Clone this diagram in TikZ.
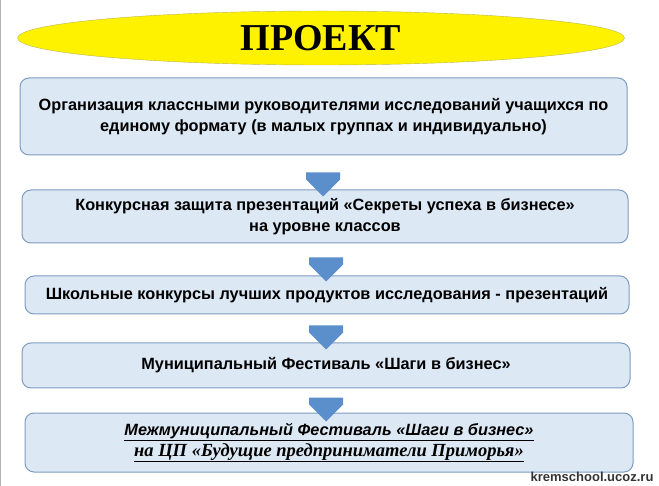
\documentclass[tikz,border=0pt]{standalone}
\usepackage{fontspec}
\setmainfont{Liberation Sans}
\newfontfamily\serifru{Liberation Serif}
\usetikzlibrary{shapes.geometric,shapes.arrows}
\definecolor{boxline}{HTML}{7F9CC0}
\definecolor{boxfill}{HTML}{DCE8F4}
\definecolor{arrowblue}{HTML}{5B8FCB}
\tikzset{
	stagebox/.style={draw=boxline,line width=1pt,rounded corners=9pt,fill=boxfill,
		align=center,font=\bfseries\fontsize{16.3}{21}\selectfont},
	downarrow/.style={single arrow,draw=none,fill=arrowblue,shape border rotate=270,
		minimum width=34pt,single arrow head extend=0pt,minimum height=24pt,inner sep=3pt}
}
\begin{document}
\begin{tikzpicture}[x=1pt,y=-1pt]
	\useasboundingbox (0,0) rectangle (659,486);
	\draw[gray!60] (0.5,0)--(0.5,486);
	
	\node[ellipse,draw=olive!60,fill=yellow,minimum width=607pt,minimum height=54pt] (title) at (321,38)
		{\serifru\bfseries\fontsize{38}{38}\selectfont ПРОЕКТ};
	
	\node[stagebox,minimum width=607pt,minimum height=77pt] (s1) at (323.5,116.5)
		{Организация классными руководителями исследований учащихся по\\единому формату (в малых группах и индивидуально)};
	\node[stagebox,minimum width=606pt,minimum height=53pt] (s2) at (325,216.5)
		{Конкурсная защита презентаций «Секреты успеха в бизнесе»\\на уровне классов};
	\node[stagebox,minimum width=604pt,minimum height=38pt] (s3) at (327,295)
		{Школьные конкурсы лучших продуктов исследования - презентаций};
	\node[stagebox,minimum width=608pt,minimum height=45pt] (s4) at (326,365.5)
		{Муниципальный Фестиваль «Шаги в бизнес»};
	\node[stagebox,minimum width=608pt,minimum height=59pt] (s5) at (329,442.5)
		{\itshape\underline{Межмуниципальный Фестиваль «Шаги в бизнес»}\\
		 \serifru\bfseries\itshape\fontsize{18.5}{21}\selectfont\underline{на ЦП «Будущие предприниматели Приморья»}};
	
	% arrows between the stages
	\node[downarrow] (a1) at (323,176) {};
	\node[downarrow] (a2) at (326,261) {};
	\node[downarrow] (a3) at (326,329) {};
	\node[downarrow] (a4) at (326,401) {};
	
	\node[anchor=east,font=\bfseries\fontsize{13}{13}\selectfont,text=black!80] (mark) at (657,477) {kremschool.ucoz.ru};
\end{tikzpicture}
\end{document}
